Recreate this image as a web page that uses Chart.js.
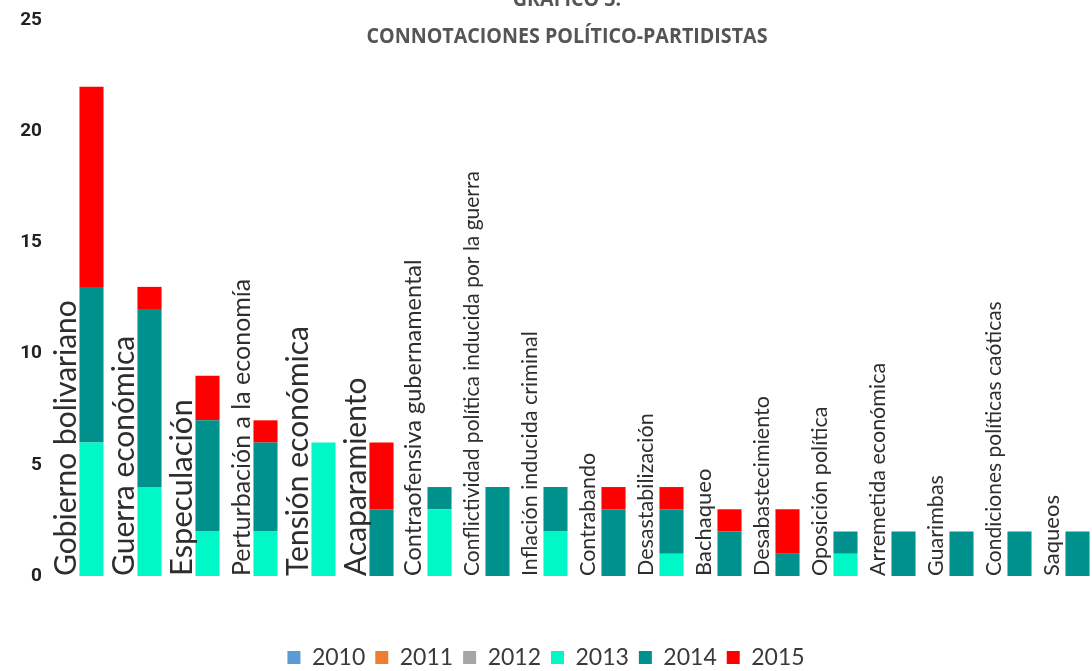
<!DOCTYPE html>
<html>
<head>
<meta charset="utf-8">
<script src="https://cdn.jsdelivr.net/npm/chart.js@4.4.1/dist/chart.umd.min.js"></script>
<style>
  body { margin: 0; background: #fff; }
  #wrap { width: 1092px; height: 671px; }
</style>
</head>
<body>
<div id="wrap"><canvas id="chart"></canvas></div>
<script>
// Connotaciones politico-partidistas, stacked by year
const categories = [
  'Gobierno bolivariano', 'Guerra económica', 'Especulación',
  'Perturbación a la economía', 'Tensión económica', 'Acaparamiento',
  'Contraofensiva gubernamental', 'Conflictividad política inducida por la guerra',
  'Inflación inducida criminal', 'Contrabando', 'Desastabilización',
  'Bachaqueo', 'Desabastecimiento', 'Oposición política',
  'Arremetida económica', 'Guarimbas', 'Condiciones políticas caóticas', 'Saqueos'
];
const years = ['2010', '2011', '2012', '2013', '2014', '2015'];
const v2010 = [0, 0, 0, 0, 0, 0, 0, 0, 0, 0, 0, 0, 0, 0, 0, 0, 0, 0];
const v2011 = [0, 0, 0, 0, 0, 0, 0, 0, 0, 0, 0, 0, 0, 0, 0, 0, 0, 0];
const v2012 = [0, 0, 0, 0, 0, 0, 0, 0, 0, 0, 0, 0, 0, 0, 0, 0, 0, 0];
const v2013 = [6, 4, 2, 2, 6, 0, 3, 0, 2, 0, 1, 0, 0, 1, 0, 0, 0, 0];
const v2014 = [7, 8, 5, 4, 0, 3, 1, 4, 2, 3, 2, 2, 1, 1, 2, 2, 2, 2];
const v2015 = [9, 1, 2, 1, 0, 3, 0, 0, 0, 1, 1, 1, 2, 0, 0, 0, 0, 0];
const yTicks = [0, 5, 10, 15, 20, 25];

const colors = ['#5b9bd5', '#ed7d31', '#a5a5a5', '#00f7c6', '#00918c', '#ff0000'];
const series = [v2010, v2011, v2012, v2013, v2014, v2015];

// label font size per category (the picture mixes sizes)
const labelSizes = [30, 30, 31, 25, 30, 30, 23.5, 21, 21.5, 21.5, 21.5, 22, 21.5, 21.5, 21.5, 21.5, 21, 22];

// empty first stack keeps the left half of each slot free for the label
const datasets = [{
  label: '_labels',
  data: categories.map(() => null),
  stack: 'lbl'
}];
years.forEach((y, i) => {
  datasets.push({
    label: y,
    data: series[i],
    backgroundColor: colors[i],
    borderWidth: 0,
    stack: 'main'
  });
});

const catLabels = {
  id: 'catLabels',
  afterDatasetsDraw(chart) {
    const ctx = chart.ctx;
    const meta = chart.getDatasetMeta(5);
    const y0 = chart.scales.y.getPixelForValue(0);
    ctx.save();
    ctx.fillStyle = '#2e2e2e';
    ctx.textAlign = 'left';
    ctx.textBaseline = 'alphabetic';
    meta.data.forEach((bar, i) => {
      const big = i < 6;
      ctx.font = labelSizes[i] + 'px Lato, sans-serif';
      const x = bar.x - bar.width / 2 - (big ? 3 : 6);
      ctx.save();
      ctx.translate(x, y0);
      ctx.rotate(-Math.PI / 2);
      ctx.fillText(categories[i], 0, 0);
      ctx.restore();
    });
    // heading, partly cut off at the top; condensed by squeezing x
    ctx.fillStyle = '#555555';
    ctx.textAlign = 'center';
    ctx.font = 'bold 22px "Open Sans", sans-serif';
    const sub = 'CONNOTACIONES POLÍTICO-PARTIDISTAS';
    const sx = 401 / ctx.measureText(sub).width;
    ctx.translate(567, 0);
    ctx.scale(sx, 1);
    ctx.fillText('GRAFICO 3.', 0, 6);
    ctx.fillText(sub, 0, 43);
    ctx.restore();
  }
};

new Chart(document.getElementById('chart'), {
  type: 'bar',
  data: { labels: categories, datasets: datasets },
  plugins: [catLabels],
  options: {
    responsive: true,
    maintainAspectRatio: false,
    animation: false,
    layout: { padding: { top: 20, right: 0, left: 0, bottom: -8 } },
    datasets: {
      bar: { categoryPercentage: 1, barPercentage: 0.83 }
    },
    scales: {
      x: {
        stacked: true,
        afterFit(scale) { scale.height = 60; },
        grid: { display: false },
        border: { display: false },
        ticks: { display: false }
      },
      y: {
        stacked: true,
        min: 0,
        max: 25,
        afterBuildTicks(scale) {
          scale.ticks = yTicks.map(v => ({ value: v }));
        },
        afterFit(scale) { scale.width = 48; },
        grid: { display: false, drawTicks: false },
        border: { display: false },
        ticks: {
          padding: 6,
          color: '#222222',
          font: { family: 'Roboto, sans-serif', size: 19, weight: 'bold' }
        }
      }
    },
    plugins: {
      title: { display: false },
      tooltip: { enabled: false },
      legend: {
        position: 'bottom',
        labels: {
          filter: item => item.text !== '_labels',
          boxWidth: 13,
          boxHeight: 13,
          padding: 10,
          color: '#3a3a3a',
          font: { family: 'Lato, sans-serif', size: 23 }
        }
      }
    }
  }
});
</script>
</body>
</html>
